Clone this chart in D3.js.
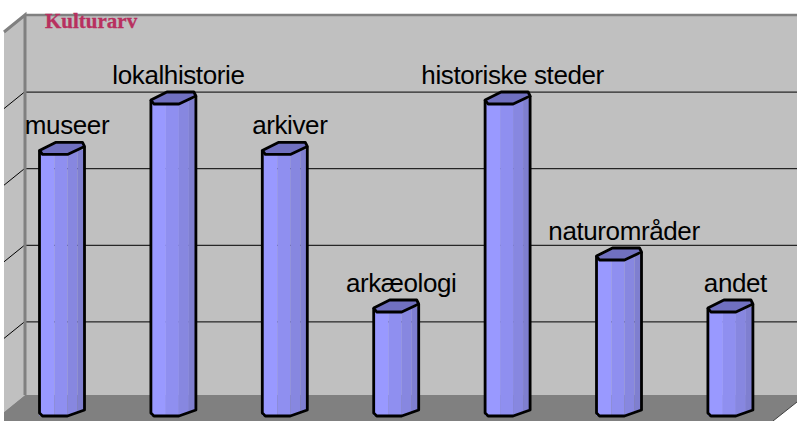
<!DOCTYPE html>
<html>
<head>
<meta charset="utf-8">
<script src="https://cdn.jsdelivr.net/npm/d3@7"></script>
<style>
    html, body { margin: 0; padding: 0; background: #fff; overflow: hidden; }
    .label { font-family: "Liberation Sans", Arial, sans-serif; font-size: 26px; letter-spacing: -0.4px; fill: #000; }
    .title { font-family: "Liberation Serif", serif; font-size: 21px; font-weight: bold; fill: #b8305f; stroke: #b8305f; stroke-width: 0.3px; }
</style>
</head>
<body>
<div id="chart"></div>
<script>
// Chart data
const categories = ['museer', 'lokalhistorie', 'arkiver', 'arkæologi', 'historiske steder', 'naturområder', 'andet'];
const values = [5.03, 6, 5.03, 2, 6, 3, 2];
const gridTicks = [1, 2, 3, 4];
const chartTitle = 'Kulturarv';

const WIDTH = 797;
const HEIGHT = 421;

// Chart box corners
const WALL = { left: 25, right: 797, top: 15, bottom: 395 };
const DEPTH = { x: 21, y: 17 };
const BAR_WIDTH = 45;

const svg = d3.select('#chart').append('svg')
    .attr('width', WIDTH)
    .attr('height', HEIGHT)
    .style('display', 'block');

// Scales
const x = d3.scaleBand()
    .domain(categories)
    .range([39.5, 39.5 + 111.4 * 7])
    .paddingInner(0)
    .align(0);

const y = d3.scaleLinear()
    .domain([0, 6])
    .range([416, 104]);

// Back wall has its own scale because it sits further away
const yWall = d3.scaleLinear()
    .domain([0, 5])
    .range([398, WALL.top]);

const poly = d3.line();

// Walls and floor
svg.append('path')
    .attr('d', poly([[WALL.left, WALL.top], [WALL.right, WALL.top], [WALL.right, WALL.bottom], [WALL.left, WALL.bottom]]) + 'Z')
    .attr('fill', '#c0c0c0');

svg.append('path')
    .attr('d', poly([[WALL.left, WALL.top], [WALL.left, WALL.bottom], [WALL.left - DEPTH.x, WALL.bottom + DEPTH.y], [WALL.left - DEPTH.x, WALL.top + DEPTH.y]]) + 'Z')
    .attr('fill', '#c0c0c0');

svg.append('path')
    .attr('d', poly([[WALL.left, WALL.bottom], [WALL.right, WALL.bottom], [WALL.right, WALL.bottom + 7], [WALL.right - 24, HEIGHT], [WALL.left - DEPTH.x, HEIGHT], [WALL.left - DEPTH.x, WALL.bottom + DEPTH.y]]) + 'Z')
    .attr('fill', '#808080');

svg.append('path')
    .attr('d', poly([[WALL.right, WALL.bottom + 7], [WALL.right - 24, HEIGHT]]))
    .attr('stroke', '#404040')
    .attr('stroke-width', 1)
    .attr('fill', 'none');

// Grid lines on back wall
svg.append('g')
    .attr('class', 'grid')
    .attr('transform', `translate(${WALL.left},0)`)
    .call(d3.axisLeft(yWall)
        .tickValues(gridTicks)
        .tickSize(-(WALL.right - WALL.left))
        .tickFormat(''))
    .call(g => g.select('.domain').remove())
    .selectAll('line')
    .attr('stroke', '#000')
    .attr('stroke-width', 1);

// Grid lines on left wall
svg.append('g')
    .selectAll('path')
    .data(gridTicks)
    .enter().append('path')
    .attr('d', d => poly([[WALL.left, yWall(d)], [WALL.left - DEPTH.x, yWall(d) + DEPTH.y]]))
    .attr('stroke', '#000')
    .attr('stroke-width', 1)
    .attr('fill', 'none');

// Wall frame
svg.append('path')
    .attr('d', poly([[WALL.left - DEPTH.x, WALL.top + DEPTH.y], [WALL.left, WALL.top], [WALL.left, WALL.bottom]]))
    .attr('stroke', '#808080')
    .attr('stroke-width', 3)
    .attr('fill', 'none');

svg.append('path')
    .attr('d', poly([[WALL.left, WALL.top], [WALL.right, WALL.top]]))
    .attr('stroke', '#808080')
    .attr('stroke-width', 2.5)
    .attr('fill', 'none');

// Column bands, left to right, as fractions of the bar width
const bands = [
    { from: 0, to: 15 / 45, color: '#9999ff' },
    { from: 15 / 45, to: 28 / 45, color: '#8f8ff0' },
    { from: 28 / 45, to: 38 / 45, color: '#8787e0' },
    { from: 38 / 45, to: 1, color: '#7f7fd0' }
];

// Bottom edge of the column, y offset at a given fraction of the width
function bottomEdge(f) {
    if (f < 28 / 45) return 0;
    return -6 * (f - 28 / 45) / (17 / 45);
}

// Columns
const bars = svg.append('g')
    .selectAll('g')
    .data(categories.map((c, i) => ({ name: c, value: values[i] })))
    .enter().append('g')
    .attr('transform', d => `translate(${x(d.name)},0)`);

bars.each(function(d) {
    const g = d3.select(this);
    const top = y(d.value);
    const base = y(0);
    const w = BAR_WIDTH;

    bands.forEach(b => {
        g.append('path')
            .attr('d', poly([
                [b.from * w, top - 5], [b.to * w, top - 5],
                [b.to * w, base + bottomEdge(b.to)], [b.from * w, base + bottomEdge(b.from)]
            ]) + 'Z')
            .attr('fill', b.color);
    });

    // Outline of the body
    g.append('path')
        .attr('d', poly([
            [0, top - 4], [0, base - 3], [3, base], [28, base], [w, base - 6], [w, top - 8]
        ]))
        .attr('fill', 'none')
        .attr('stroke', '#000')
        .attr('stroke-width', 2.8)
        .attr('stroke-linejoin', 'round');

    // Top cap
    g.append('path')
        .attr('d', poly([
            [0, top - 4], [16, top - 12], [43, top - 12], [w, top - 8], [28, top], [3, top]
        ]) + 'Z')
        .attr('fill', '#7070c0')
        .attr('stroke', '#000')
        .attr('stroke-width', 2.8)
        .attr('stroke-linejoin', 'round');
});

// Labels above the columns
bars.append('text')
    .attr('class', 'label')
    .attr('x', BAR_WIDTH / 2 + 5)
    .attr('y', d => y(d.value) - 20)
    .attr('text-anchor', 'middle')
    .text(d => d.name);

// Title
svg.append('text')
    .attr('class', 'title')
    .attr('x', 45)
    .attr('y', 28)
    .text(chartTitle);
</script>
</body>
</html>
